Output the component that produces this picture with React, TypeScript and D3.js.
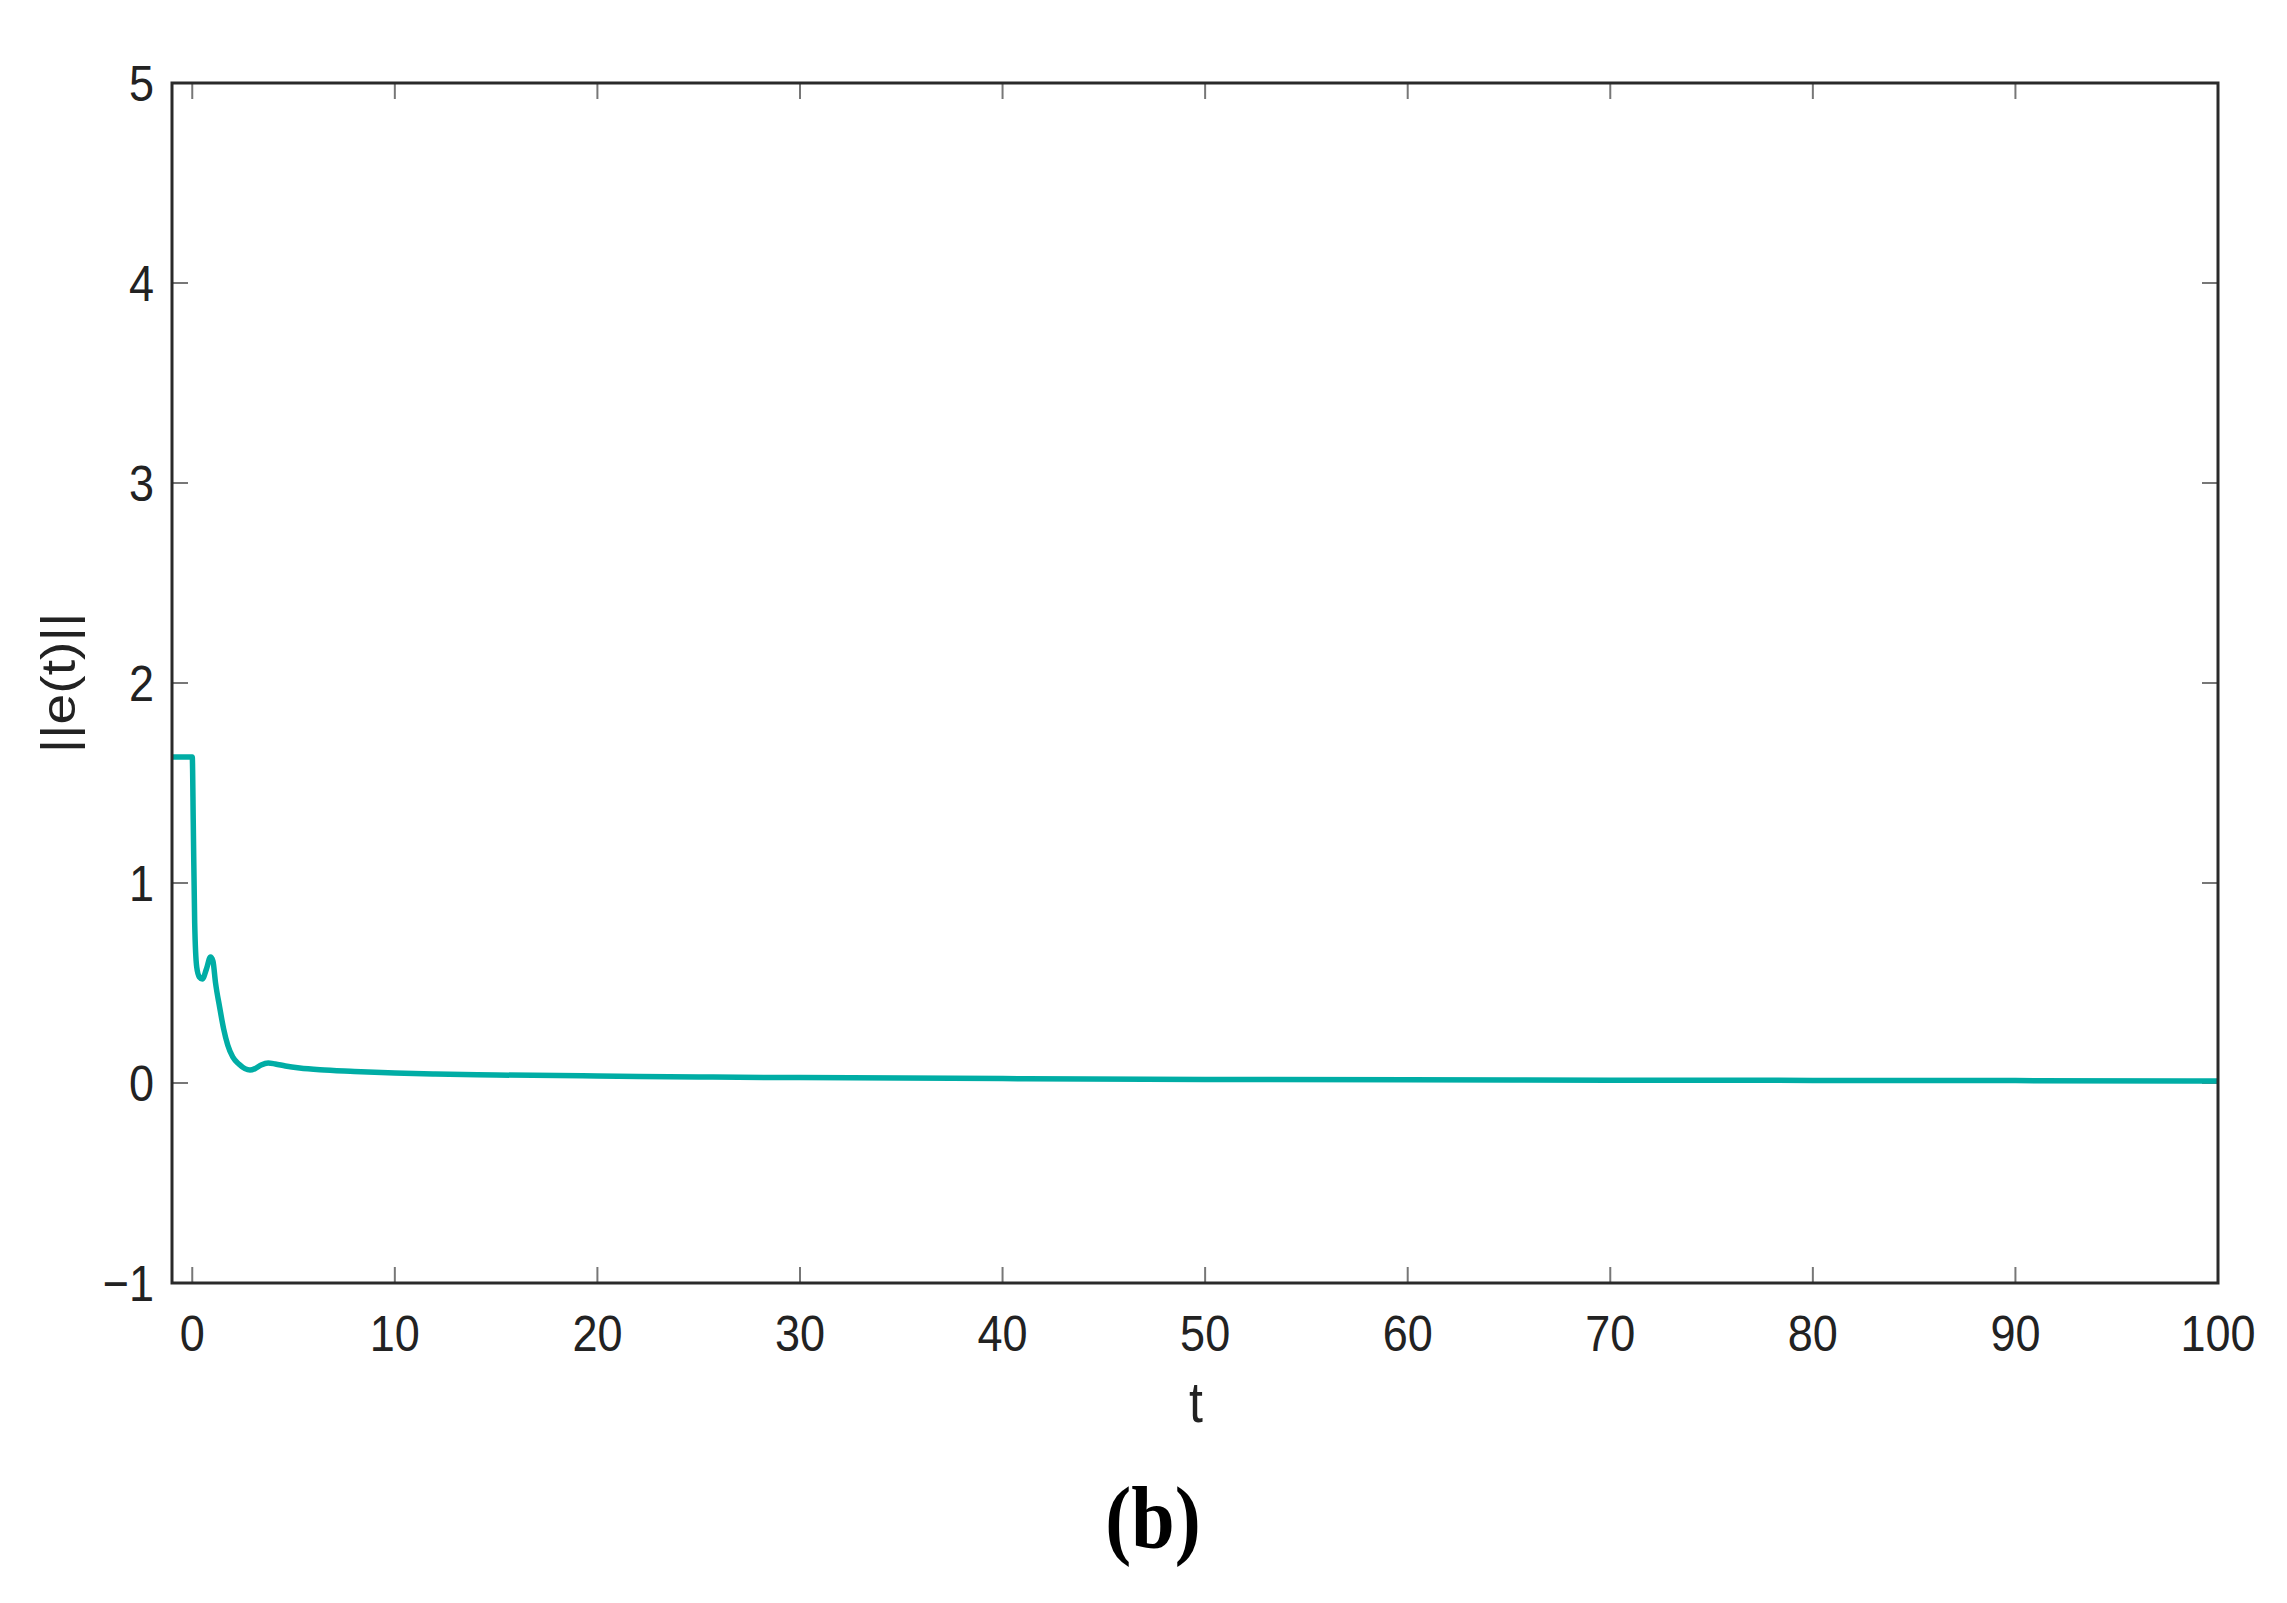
import React from "react";
import * as d3 from "d3";

const tValues = [-1, 0.0, 0.05, 0.12, 0.22, 0.35, 0.5, 0.7, 0.9, 1.02, 1.15, 1.35, 1.55, 1.75, 2.0, 2.3, 2.6, 2.85, 3.1, 3.4, 3.75, 4.1, 4.6, 5.3, 6.3, 8, 10, 12, 15, 20, 25, 30, 40, 50, 60, 70, 80, 90, 100];
const eValues = [1.63, 1.63, 1.3, 0.8, 0.58, 0.53, 0.52, 0.57, 0.63, 0.61, 0.5, 0.38, 0.27, 0.19, 0.13, 0.095, 0.072, 0.065, 0.072, 0.09, 0.1, 0.095, 0.085, 0.075, 0.066, 0.058, 0.05, 0.045, 0.04, 0.035, 0.03, 0.027, 0.022, 0.018, 0.016, 0.014, 0.013, 0.012, 0.01];
const xTicks = [0, 10, 20, 30, 40, 50, 60, 70, 80, 90, 100];
const yTicks = [-1, 0, 1, 2, 3, 4, 5];

const W = 2287, H = 1603;
const L = 172, R = 2218, T = 83, B = 1283;
const SY = 1.13;

export default function App() {
  const x = d3.scaleLinear().domain([-1, 100]).range([L, R]);
  const y = d3.scaleLinear().domain([-1, 5]).range([B, T]);
  const pts = tValues.map((t, i) => [t, eValues[i]] as [number, number]);
  const line = d3.line<[number, number]>().x(d => x(d[0])).y(d => y(d[1])).curve(d3.curveMonotoneX);
  const font = "Arial, 'Liberation Sans', Helvetica, sans-serif";
  const tickLen = 16;
  const fmt = (v: number) => (v < 0 ? "\u2212" + Math.abs(v) : String(v));
  return (
    <svg width={W} height={H} style={{ position: "absolute", left: 0, top: 0, background: "#fff" }}>
      <rect x={0} y={0} width={W} height={H} fill="#fff" />
      {xTicks.map(v => (
        <g key={"xt" + v}>
          <line x1={x(v)} x2={x(v)} y1={B} y2={B - tickLen} stroke="#777" strokeWidth={2} />
          <line x1={x(v)} x2={x(v)} y1={T} y2={T + tickLen} stroke="#777" strokeWidth={2} />
          <text transform={`translate(${x(v)},${1351}) scale(1,${SY})`} textAnchor="middle" fontFamily={font} fontSize={45} fill="#222">{fmt(v)}</text>
        </g>
      ))}
      {yTicks.map(v => (
        <g key={"yt" + v}>
          <line x1={L} x2={L + tickLen} y1={y(v)} y2={y(v)} stroke="#777" strokeWidth={2} />
          <line x1={R} x2={R - tickLen} y1={y(v)} y2={y(v)} stroke="#777" strokeWidth={2} />
          <text transform={`translate(${154},${y(v) + 18}) scale(1,${SY})`} textAnchor="end" fontFamily={font} fontSize={45} fill="#222">{fmt(v)}</text>
        </g>
      ))}
      <path d={line(pts) || ""} fill="none" stroke="#00ADA5" strokeWidth={5.5} strokeLinejoin="round" />
      <rect x={L} y={T} width={R - L} height={B - T} fill="none" stroke="#2a2a2a" strokeWidth={3} />
      <text transform={`translate(${1196},${1422}) scale(1,${SY})`} textAnchor="middle" fontFamily={font} fontSize={50} fill="#222">t</text>
      <text transform={`translate(${75},${683}) rotate(-90) scale(${SY},1)`} textAnchor="middle" fontFamily={font} fontSize={49} fill="#222">||e(t)||</text>
      <text transform={`translate(${1153},${1548}) scale(1,${SY})`} textAnchor="middle" fontFamily="'Liberation Serif', 'Times New Roman', serif" fontWeight="bold" fontSize={78} fill="#000">(b)</text>
    </svg>
  );
}
